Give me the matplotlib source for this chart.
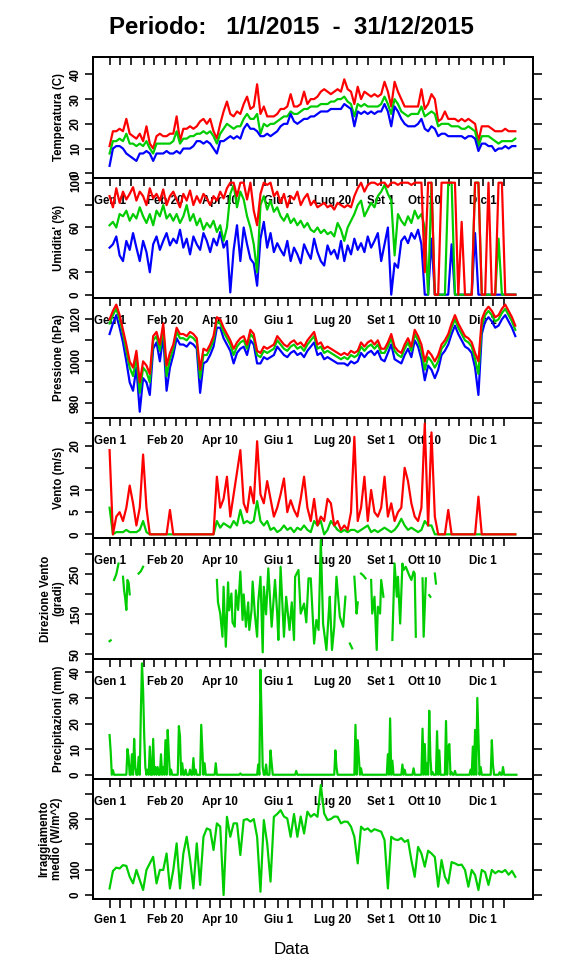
import numpy as np
import matplotlib
matplotlib.use("Agg")
import matplotlib.pyplot as plt
import matplotlib.transforms as mtransforms

plt.rcParams["font.family"] = ["Liberation Sans", "DejaVu Sans"]

nan = np.nan

# sample days (every 3rd day of 2015, day 0 = 1 Jan)
days = np.arange(0, 364, 3)

# --- Temperature (C): max / mean / min
t_max = [11, 17, 17, 18, 17, 22, 16, 15, 14, 16, 13,
         19, 12, 10, 15, 16, 15, 15, 16, 16,
         23, 13, 18, 18, 19, 18, 19, 21, 22, 20,
         22, 17, 14, 20, 25, 29, 24, 23, 25, 24,
         28, 31, 26, 27, 36, 24, 27, 23, 23, 23, 24,
         26, 26, 27, 32, 27, 27, 28, 33, 28, 30,
         30, 31, 33, 34, 33, 32, 33, 34, 33, 38,
         34, 33, 28, 35, 30, 33, 32, 31, 32, 31,
         32, 37, 33, 27, 37, 33, 30, 27, 27, 27,
         27, 27, 34, 26, 28, 32, 30, 21, 22, 25, 22,
         22, 22, 21, 22, 21, 22, 21, 20, 13, 19,
         19, 19, 18, 17, 17, 17, 18, 17, 17, 17]
t_mean = [8, 13, 13, 14, 13, 16, 12, 12, 11, 12, 11,
          13, 10, 8, 12, 12, 12, 12, 12, 13,
          17, 12, 14, 14, 15, 15, 16, 16, 17, 16,
          17, 15, 12, 16, 18, 20, 19, 18, 19, 19,
          22, 24, 22, 22, 24, 16, 20, 19, 20, 20, 21,
          22, 23, 23, 25, 24, 24, 25, 26, 26, 27,
          27, 27, 28, 28, 28, 29, 29, 30, 30, 31,
          29, 28, 23, 28, 27, 28, 27, 27, 27, 27,
          28, 31, 28, 24, 30, 28, 25, 24, 23, 24,
          24, 24, 27, 23, 24, 25, 24, 19, 20, 20, 20,
          19, 19, 19, 18, 18, 19, 18, 17, 11, 15,
          15, 15, 14, 13, 12, 13, 13, 13, 13, 14]
t_min = [3, 10, 11, 11, 10, 8, 7, 6, 5, 8, 8,
         9, 8, 5, 8, 8, 8, 9, 8, 8,
         9, 8, 10, 10, 10, 11, 13, 13, 12, 13,
         12, 10, 8, 13, 13, 14, 15, 14, 15, 14,
         18, 20, 18, 18, 17, 15, 15, 16, 15, 16, 17,
         19, 20, 20, 24, 21, 20, 21, 22, 22, 23,
         23, 24, 25, 25, 25, 26, 26, 26, 26, 28,
         27, 26, 19, 25, 24, 25, 24, 25, 24, 25,
         25, 28, 25, 19, 27, 25, 22, 20, 19, 19,
         19, 20, 22, 18, 17, 19, 18, 15, 16, 16, 15,
         15, 15, 15, 15, 14, 15, 15, 14, 9, 12,
         12, 11, 11, 9, 10, 10, 11, 10, 11, 11]

# --- Relative humidity (%): max / mean / min
h_max = [88, 78, 95, 82, 92, 85, 90, 96, 84, 92, 88,
         80, 95, 86, 90, 84, 94, 80, 88, 92,
         85, 78, 90, 84, 93, 80, 88, 82, 90, 86,
         80, 88, 84, 92, 86, 95, 100, 100, 88, 100,
         100, 85, 100, 75, 62, 90, 100, 98, 100, 88, 92,
         82, 90, 78, 88, 85, 92, 80, 86, 90, 80,
         84, 78, 80, 82, 78, 80, 76, 82, 80, 78,
         80, 78, 88, 95, 100, 92, 98, 100, 100, 98,
         100, 100, 96, 100, 100, 98, 100, 100, 100, 98,
         100, 100, 100, 20, 100, 100, 0, 0, 100, 100, 100,
         100, 100, 0, 65, 0, 0, 0, 100, 100, 0,
         0, 100, 0, 0, 100, 100, 0, 0, 0, 0]
h_mean = [62, 65, 60, 72, 70, 75, 66, 72, 68, 78, 70,
          64, 72, 62, 75, 70, 80, 68, 72, 66,
          72, 64, 70, 80, 66, 72, 62, 68, 58, 64,
          60, 66, 56, 62, 48, 60, 90, 98, 78, 92,
          85, 70, 60, 45, 20, 80, 88, 76, 84, 74, 78,
          70, 66, 72, 64, 68, 62, 66, 60, 64, 58,
          56, 60, 55, 58, 54, 56, 52, 64, 58, 48,
          60, 66, 72, 80, 84, 70, 76, 82, 78, 88,
          92, 98, 90, 84, 35, 72, 66, 62, 70, 64,
          75, 68, 72, 60, 0, 100, 0, 0, 0, 0, 100,
          100, 0, 0, 0, 0, 0, 0, 100, 100, 0,
          0, 0, 0, 0, 50, 0, 0, 0, 0, 0]
h_min = [42, 45, 52, 35, 30, 48, 40, 55, 42, 30, 48,
         38, 20, 45, 52, 40, 48, 55, 44, 50,
         46, 58, 42, 50, 36, 52, 45, 40, 55, 48,
         38, 50, 44, 56, 42, 48, 2, 40, 62, 30,
         60, 45, 32, 28, 8, 50, 65, 42, 55, 38, 46,
         40, 35, 48, 30, 42, 36, 28, 45, 38, 32,
         50, 38, 30, 26, 44, 36, 40, 32, 48, 30,
         44, 36, 50, 40, 46, 38, 52, 42, 48, 55,
         30, 45, 60, 0, 28, 24, 48, 52, 46, 55,
         50, 58, 45, 0, 0, 50, 0, 0, 0, 0, 0,
         45, 0, 0, 0, 0, 0, 0, 55, 0, 0,
         0, 0, 0, 0, 0, 0, 0, 0, 0, 0]

# --- Pressure (hPa): max / mean / min
p_max = [1020, 1024, 1027, 1022, 1015, 1008, 1000, 997, 1005, 990, 1000,
         998, 994, 1012, 1014, 1008, 1018, 998, 1004, 1008,
         1016, 1013, 1013, 1012, 1014, 1013, 1011, 996, 1006, 1005,
         1008, 1012, 1021, 1020, 1016, 1013, 1010, 1006, 1009, 1011,
         1012, 1008, 1015, 1013, 1005, 1004, 1007, 1006, 1007, 1008, 1012,
         1010, 1008, 1007, 1009, 1010, 1008, 1009, 1007, 1010, 1012,
         1014, 1008, 1009, 1006, 1007, 1006, 1005, 1004, 1003, 1004,
         1003, 1005, 1004, 1005, 1009, 1007, 1009, 1010, 1008, 1010,
         1006, 1006, 1009, 1013, 1007, 1005, 1004, 1008, 1011, 1007,
         1015, 1012, 1008, 1000, 1005, 1003, 1000, 1003, 1008, 1010, 1013,
         1018, 1022, 1018, 1015, 1012, 1011, 1009, 1004, 1000, 1020,
         1024, 1026, 1024, 1021, 1022, 1025, 1027, 1024, 1021, 1017]
p_mean = [1018, 1022, 1025, 1020, 1013, 1005, 997, 993, 1002, 985, 997,
          995, 990, 1010, 1012, 1005, 1016, 993, 1001, 1006,
          1014, 1011, 1011, 1010, 1012, 1011, 1009, 992, 1003, 1003,
          1006, 1010, 1019, 1018, 1014, 1011, 1008, 1003, 1007, 1009,
          1010, 1006, 1013, 1011, 1003, 1002, 1005, 1004, 1005, 1006, 1010,
          1008, 1006, 1005, 1007, 1008, 1006, 1007, 1005, 1008, 1010,
          1012, 1006, 1007, 1004, 1005, 1004, 1003, 1002, 1001, 1002,
          1001, 1003, 1002, 1003, 1007, 1005, 1007, 1008, 1006, 1008,
          1004, 1004, 1007, 1011, 1005, 1003, 1002, 1006, 1009, 1005,
          1013, 1010, 1005, 996, 1002, 1000, 997, 1000, 1006, 1008, 1011,
          1016, 1020, 1016, 1013, 1010, 1009, 1007, 1001, 994, 1017,
          1022, 1024, 1022, 1019, 1020, 1023, 1025, 1022, 1019, 1015]
p_min = [1013, 1018, 1022, 1016, 1009, 1000, 990, 986, 997, 976, 992,
         990, 984, 1006, 1009, 1000, 1012, 986, 997, 1003,
         1011, 1008, 1008, 1007, 1009, 1008, 1006, 985, 999, 1000,
         1003, 1007, 1016, 1016, 1011, 1008, 1005, 999, 1004, 1006,
         1007, 1003, 1010, 1008, 999, 999, 1002, 1001, 1002, 1003, 1007,
         1005, 1003, 1002, 1004, 1005, 1003, 1004, 1002, 1005, 1007,
         1009, 1003, 1004, 1001, 1002, 1001, 1000, 999, 999, 999,
         998, 1000, 999, 1000, 1004, 1002, 1004, 1005, 1003, 1005,
         1001, 1000, 1004, 1008, 1001, 1000, 999, 1003, 1006, 1002,
         1010, 1007, 1001, 991, 998, 996, 992, 996, 1003, 1005, 1008,
         1013, 1017, 1013, 1010, 1007, 1006, 1004, 997, 984, 1013,
         1019, 1021, 1019, 1016, 1017, 1020, 1022, 1019, 1016, 1012]

# --- Wind (m/s): gust / mean
w_max = [19, 0, 4, 5, 3, 6, 11, 7, 2, 6, 18,
         6, 0, 0, 0, 0, 0, 0, 5.5, 0,
         0, 0, 0, 0, 0, 0, 0, 0, 0, 0,
         0, 0, 13, 6, 8, 13, 4, 9, 14, 19,
         7, 5, 10.7, 7, 21, 9, 7, 12, 8, 4, 6,
         9, 12.6, 5, 7.7, 5.5, 4, 8, 13, 6, 3,
         8, 2, 4, 3, 8, 7, 2, 3, 1, 2,
         1, 5, 22, 3, 6, 13, 3, 10, 5, 4,
         6, 13, 4, 7, 3, 5, 6, 15, 12, 7,
         4, 3, 6, 25, 2, 23, 4, 0, 0, 0, 5.5,
         0, 0, 0, 0, 0, 0, 0, 0, 8.5, 0,
         0, 0, 0, 0, 0, 0, 0, 0, 0, 0]
w_mean = [6, 0, 0.5, 0.5, 0.5, 1, 0.5, 0.5, 0.5, 1, 3,
          0.5, 0, 0, 0, 0, 0, 0, 0, 0,
          0, 0, 0, 0, 0, 0, 0, 0, 0, 0,
          0, 0, 3, 1.5, 2.5, 2, 1.5, 3, 2, 5.5,
          2.5, 3, 2.5, 3, 7.5, 3, 2, 3, 1, 1.5, 0.5,
          1, 2, 1, 1.5, 0.5, 1.5, 1, 2, 1, 0.5,
          3, 2, 3, 0, 1, 3, 2, 1, 0.5, 1,
          0.5, 1, 1, 0.5, 1, 1.5, 2, 0.5, 1, 0.5,
          1, 1.5, 1, 0.5, 1, 2, 3.5, 2, 1, 1.5,
          1, 0.5, 1, 3, 2, 2, 0, 0, 0, 0, 0,
          0, 0, 0, 0, 0, 0, 0, 0, 0, 0,
          0, 0, 0, 0, 0, 0, 0, 0, 0, 0]

# --- Wind direction (degrees), gaps = missing
dir_days = [0, 1, 2, 4, 6, 8, 10, 12, 13, 14, 15, 16, 17, 18, 20, 26, 28, 30, 50,
            96, 97, 99, 101, 102, 104, 105, 106, 107, 109, 110, 112, 113, 115, 117,
            119, 120, 122, 124, 125, 127, 128, 130, 132, 133, 135, 137, 138, 140,
            142, 145, 148, 150, 151, 153, 156, 158, 161, 163, 165, 166, 169, 171,
            174, 176, 178, 180, 183, 185, 187, 189, 191, 194, 196, 197, 199, 201,
            203, 206, 209, 211, 213, 215, 217, 218, 219, 220, 221, 222, 223, 225,
            227, 229, 231, 234, 235, 237, 239, 240, 242, 243, 245, 249, 253, 255,
            257, 258, 260, 262, 263, 265, 268, 270, 272, 273, 274, 277, 280, 281,
            283, 285, 286, 287, 289, 291, 292]
dir_vals = [83, 85, nan, 236, 250, 277, nan, 244, 210, 190, 161, 236, 230, 200, nan,
            252, 258, 269, nan,
            236, 180, 152, 94, 219, 69, 144, 230, 160, 202, 130, 119, 210, 161, 257,
            136, 200, 119, 180, 111, 160, 232, 150, 94, 180, 244, 55, 219, 150,
            265, 119, 236, 150, 86, 269, 94, 194, 111, 180, 86, 244, 261, 152,
            177, 130, 240, 240, 77, 136, 111, 336, 127, 61, 150, 194, 61, 119,
            244, 144, 119, 194, nan, 77, 65, nan, 244, 200, 152, 180, nan, 252,
            247, 240, nan, 236, 152, 194, 61, 169, 152, 236, 194, nan, 86, 277,
            194, 244, 127, 277, 261, 269, 248, 236, 257, 252, 94, nan, 240, 94,
            240, nan, 198, 194, nan, 252, 227]

# --- Precipitation (mm): rainy days only, all other days 0
prec_days = [0, 1, 3, 16, 17, 20, 22, 23, 26, 28, 29, 30, 31, 32, 34, 36, 39, 41,
             43, 46, 48, 50, 52, 53, 55, 62, 63, 65, 68, 72, 75, 77, 82, 83, 85,
             95, 117, 133, 135, 136, 137, 140, 144, 145, 167, 202, 203, 220, 222,
             223, 225, 249, 251, 253, 262, 264, 272, 280, 282, 284, 286, 287, 289,
             293, 295, 301, 303, 304, 306, 309, 323, 325, 327, 329, 330, 332, 342,
             343, 349, 352]
prec_vals = [15.5, 9, 1.8, 10, 7, 8, 14, 3, 7, 25, 43.5, 33, 15, 3, 2, 11, 14, 3,
             3, 8, 3, 13.5, 17.5, 8, 2, 19, 15, 4.5, 2, 2, 6.5, 2, 19.5, 9.5, 4.5,
             4.5, 0.5, 4, 41, 23, 3, 4, 9.5, 4.5, 1.5, 9.5, 3, 19.5, 13.5,
             7, 2.5, 8, 22, 5.5, 4, 2, 2.5, 18, 12, 4.5, 25, 7, 1,
             17, 9.5, 21, 11, 12, 1, 1.5, 2, 11, 17.5, 30, 15, 3, 13.5,
             4, 1, 3]

# --- Mean irradiance (W/m^2)
irr = [26, 95, 108, 105, 118, 115, 72, 46, 99, 59, 20,
       99, 125, 151, 46, 99, 99, 164, 26, 99,
       204, 26, 164, 230, 140, 26, 204, 40, 230, 263,
       257, 178, 283, 270, 0, 309, 230, 283, 283, 158,
       296, 300, 290, 300, 230, 13, 296, 204, 53, 309, 320,
       335, 310, 302, 230, 320, 230, 310, 243, 329, 309,
       320, 309, 434, 322, 296, 300, 310, 309, 283, 290,
       289, 270, 230, 125, 270, 257, 263, 250, 260, 255,
       250, 217, 26, 230, 220, 217, 225, 210, 217, 138,
       72, 190, 164, 112, 175, 164, 150, 33, 138, 72, 46,
       130, 125, 118, 120, 99, 33, 99, 79, 20, 99,
       90, 40, 99, 86, 95, 90, 99, 80, 95, 72]

# date axis: ticks on the 1st, 10th, 20th of every month
months = np.arange("2015-01", "2016-01", dtype="datetime64[M]")
tick_days = []
for m in months:
    first = (m.astype("datetime64[D]") - np.datetime64("2015-01-01")).astype(int)
    tick_days += [first, first + 9, first + 19]
lab_days = [0, 50, 99, 151, 200, 243, 282, 334]
lab_text = ["Gen 1", "Feb 20", "Apr 10", "Giu 1", "Lug 20", "Set 1", "Ott 10", "Dic 1"]

RED, GREEN, BLUE = "#FF0000", "#00CD00", "#0000FF"

W, H = 576, 972
LEFT, RIGHT, TOP, PH = 93.3, 532.7, 57.3, 120.29
FS = 11.5

fig = plt.figure(figsize=(W / 72, H / 72), dpi=72)


def make_panel(k, ylim, yticks, ylabels, ylab, ylab_x):
    top = TOP + PH * k
    ax = fig.add_axes([LEFT / W, 1 - (top + PH) / H, (RIGHT - LEFT) / W, PH / H])
    ax.set_xlim(-14.56, 378.56)
    ax.set_ylim(*ylim)
    for s in ax.spines.values():
        s.set_linewidth(2)
    ax.set_yticks(yticks)
    ax.set_yticklabels(ylabels, rotation=90, va="center", fontsize=FS, fontweight="bold")
    ax.tick_params(axis="y", left=True, right=True, direction="out", length=8.5,
                   width=1.6, pad=3)
    ax.set_xticks(tick_days)
    last = k == 6
    ax.tick_params(axis="x", bottom=last, top=False, labelbottom=last,
                   direction="out", length=8.5, width=1.6, pad=6)
    if last:
        ax.set_xticklabels([lab_text[lab_days.index(d)] if d in lab_days else ""
                            for d in tick_days], fontsize=FS, fontweight="bold")
    sec = ax.secondary_xaxis("top")
    sec.set_xticks(tick_days)
    sec.tick_params(direction="in", length=8, width=1.6, labeltop=False)
    sec.spines["top"].set_linewidth(2)
    if k > 0:
        trans = mtransforms.blended_transform_factory(ax.transData, ax.transAxes)
        for d, t in zip(lab_days, lab_text):
            ax.text(d, 1 - 23 / PH, t, transform=trans, ha="center", va="center",
                    fontsize=FS, fontweight="bold", zorder=1)
    ax.text((ylab_x - LEFT) / (RIGHT - LEFT), 0.5, ylab, transform=ax.transAxes,
            rotation=90, ha="center", va="center", fontsize=FS, fontweight="bold",
            linespacing=1.05)
    return ax


lw = 2.2

ax = make_panel(0, (-1.74, 46.9), [0, 10, 20, 30, 40], ["0", "10", "20", "30", "40"],
                "Temperatura (C)", 58.8)
ax.plot(days, t_max, color=RED, lw=lw, zorder=2)
ax.plot(days, t_mean, color=GREEN, lw=lw, zorder=2)
ax.plot(days, t_min, color=BLUE, lw=lw, zorder=2)

ax = make_panel(1, (-2.86, 104.55), [0, 20, 40, 60, 80, 100],
                ["0", "20", "", "60", "", "100"], "Umidita' (%)", 58.8)
ax.plot(days, h_min, color=BLUE, lw=lw, zorder=2)
ax.plot(days, h_mean, color=GREEN, lw=lw, zorder=2)
ax.plot(days, h_max, color=RED, lw=lw, zorder=2)

ax = make_panel(2, (972.95, 1030.2), [980, 990, 1000, 1010, 1020],
                ["980", "", "1000", "", "1020"], "Pressione (hPa)", 58.8)
ax.plot(days, p_min, color=BLUE, lw=lw, zorder=2)
ax.plot(days, p_mean, color=GREEN, lw=lw, zorder=2)
ax.plot(days, p_max, color=RED, lw=lw, zorder=2)

ax = make_panel(3, (-0.93, 26.2), [0, 5, 10, 15, 20, 25],
                ["0", "5", "10", "", "20", ""], "Vento (m/s)", 58.8)
ax.plot(days, w_mean, color=GREEN, lw=lw, zorder=2)
ax.plot(days, w_max, color=RED, lw=lw, zorder=2)

ax = make_panel(4, (39, 339.75), [50, 100, 150, 200, 250, 300],
                ["50", "", "150", "", "250", ""], "Direzione Vento\n(gradi)", 52.4)
ax.plot(dir_days, dir_vals, color=GREEN, lw=lw, zorder=2)

prec = np.zeros(365)
prec[prec_days] = prec_vals
ax = make_panel(5, (-1.68, 45.3), [0, 10, 20, 30, 40], ["0", "10", "20", "30", "40"],
                "Precipitazioni (mm)", 58.8)
ax.plot(np.arange(365), prec, color=GREEN, lw=lw, zorder=2)

ax = make_panel(6, (-17, 458), [0, 100, 200, 300, 400], ["0", "100", "", "300", ""],
                "Irraggiamento\nmedio (W/m^2)", 50.5)
ax.plot(days, irr, color=GREEN, lw=lw, zorder=2)

fig.text(291 / W, 1 - 28 / H, "Periodo:   1/1/2015  -  31/12/2015", ha="center",
         va="center", fontsize=24, fontweight="bold")
fig.text(292 / W, 1 - 949 / H, "Data", ha="center", va="center", fontsize=17)

fig.savefig("out.png", dpi=72)
